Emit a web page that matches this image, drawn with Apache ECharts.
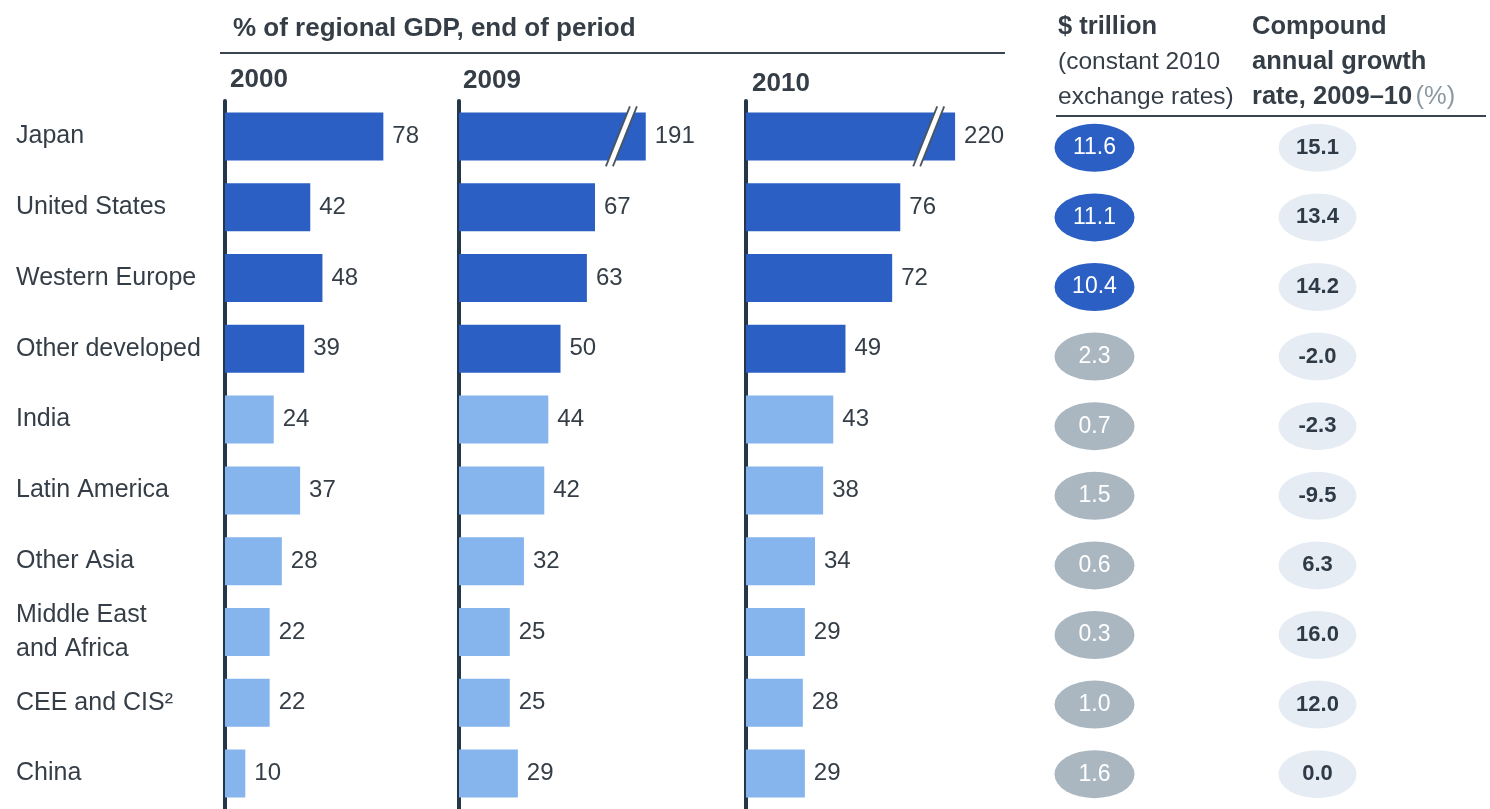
<!DOCTYPE html>
<html>
<head>
<meta charset="utf-8">
<script src="https://cdn.jsdelivr.net/npm/echarts@6/dist/echarts.min.js"></script>
<style>
  html, body { margin: 0; padding: 0; background: #ffffff; }
  #chart { width: 1490px; height: 809px; }
</style>
</head>
<body>
<div id="chart"></div>
<script>
// Regions, top to bottom
const regions = [
  'Japan', 'United States', 'Western Europe', 'Other developed', 'India',
  'Latin America', 'Other Asia', 'Middle East\nand Africa', 'CEE and CIS²', 'China'
];
// Developed regions get the dark bar colour
const developed = [true, true, true, true, false, false, false, false, false, false];

// % of regional GDP, end of period
const years = ['2000', '2009', '2010'];
const share2000 = [78, 42, 48, 39, 24, 37, 28, 22, 22, 10];
const share2009 = [191, 67, 63, 50, 44, 42, 32, 25, 25, 29];
const share2010 = [220, 76, 72, 49, 43, 38, 34, 29, 28, 29];

// $ trillion (constant 2010 exchange rates)
const stockTrillion = [11.6, 11.1, 10.4, 2.3, 0.7, 1.5, 0.6, 0.3, 1.0, 1.6];
// Largest stocks shown in dark ovals
const largeStock = [true, true, true, false, false, false, false, false, false, false];
// Compound annual growth rate, 2009–10 (%)
const growth0910 = [15.1, 13.4, 14.2, -2.0, -2.3, -9.5, 6.3, 16.0, 12.0, 0.0];

const FONT = '"Liberation Sans", Arial, Helvetica, sans-serif';
const INK = '#353e47';
const DARK_BLUE = '#2b5fc4';
const LIGHT_BLUE = '#86b5ee';
const AXIS_INK = '#24364a';
const GREY_OVAL = '#aab7c1';
const PALE_OVAL = '#e6ecf4';

const PX = 2.03;                 // pixels per percentage point
const ROW_TOP = 101, ROW_H = 711;

// Panel layout; long Japan bars in 2009/2010 use a broken value axis
const panels = [
  { values: share2000, left: 225, max: 100, brk: null },
  { values: share2009, left: 459, max: 200, brk: { start: 79, end: 180, gap: 2 } },
  { values: share2010, left: 746, max: 230, brk: { start: 89, end: 208, gap: 2 } }
];

const grid = [], xAxis = [], yAxis = [], series = [];

panels.forEach((p, i) => {
  const span = p.brk ? p.max - (p.brk.end - p.brk.start) + p.brk.gap : p.max;
  grid.push({ left: p.left, top: ROW_TOP, height: ROW_H, width: PX * span });
  const xa = {
    type: 'value', gridIndex: i, min: 0, max: p.max,
    axisLine: { show: false }, axisTick: { show: false },
    axisLabel: { show: false }, splitLine: { show: false }
  };
  if (p.brk) {
    xa.breaks = [{ start: p.brk.start, end: p.brk.end, gap: p.brk.gap }];
    xa.breakArea = { show: false };
  }
  xAxis.push(xa);
  yAxis.push({
    type: 'category', gridIndex: i, data: regions, inverse: true,
    axisLine: { show: true, lineStyle: { color: AXIS_INK, width: 4 } },
    axisTick: { show: false },
    splitLine: { show: false },
    axisLabel: i === 0 ? {
      show: true, align: 'left', margin: 209, fontSize: 25, lineHeight: 34,
      color: INK, fontFamily: FONT
    } : { show: false }
  });
  series.push({
    type: 'bar', xAxisIndex: i, yAxisIndex: i, barWidth: 48, silent: true,
    data: p.values.map((v, k) => ({
      value: v, itemStyle: { color: developed[k] ? DARK_BLUE : LIGHT_BLUE }
    })),
    label: {
      show: true, position: 'right', distance: 9, fontSize: 24,
      color: INK, fontFamily: FONT
    }
  });
  if (p.brk) {
    // double-slash break marker on bars that run past the break
    const marks = [];
    p.values.forEach((v, k) => { if (v > p.brk.end) marks.push([p.brk.start, p.brk.end, k]); });
    series.push({
      type: 'custom', xAxisIndex: i, yAxisIndex: i, z: 5, silent: true,
      encode: { x: [0, 1], y: 2 },
      data: marks,
      renderItem: (params, api) => {
        const a = api.coord([api.value(0), api.value(2)]);
        const b = api.coord([api.value(1), api.value(2)]);
        const cx = (a[0] + b[0]) / 2, cy = a[1];
        const half = 30, lean = 12, sep = 3.5;
        const top = cy - half, bot = cy + half;
        return {
          type: 'group',
          children: [
            { type: 'polygon',
              shape: { points: [[cx - sep + lean, top], [cx + sep + lean, top],
                                [cx + sep - lean, bot], [cx - sep - lean, bot]] },
              style: { fill: '#ffffff' } },
            { type: 'line',
              shape: { x1: cx - sep + lean, y1: top, x2: cx - sep - lean, y2: bot },
              style: { stroke: '#4a5560', lineWidth: 1.8 } },
            { type: 'line',
              shape: { x1: cx + sep + lean, y1: top, x2: cx + sep - lean, y2: bot },
              style: { stroke: '#4a5560', lineWidth: 1.8 } }
          ]
        };
      }
    });
  }
});

// Oval value columns on the right
const ovalGrid = grid.length;
grid.push({ left: 983, top: 113, width: 446, height: 700 });
xAxis.push({ type: 'category', gridIndex: ovalGrid, data: ['stock', 'growth'], show: false });
yAxis.push({ type: 'category', gridIndex: ovalGrid, data: regions, inverse: true, show: false });

const ELLIPSE = 'path://M50,0A50,50,0,1,1,50,100A50,50,0,1,1,50,0Z';

series.push({
  type: 'scatter', xAxisIndex: ovalGrid, yAxisIndex: ovalGrid, silent: true,
  symbol: ELLIPSE, symbolSize: [80, 48],
  data: stockTrillion.map((v, k) => ({
    value: [0, k, v],
    itemStyle: { color: largeStock[k] ? DARK_BLUE : GREY_OVAL, opacity: 1 }
  })),
  label: {
    show: true, position: 'inside', fontSize: 23, color: '#ffffff', fontFamily: FONT,
    formatter: (p) => p.value[2].toFixed(1)
  }
});
series.push({
  type: 'scatter', xAxisIndex: ovalGrid, yAxisIndex: ovalGrid, silent: true,
  symbol: ELLIPSE, symbolSize: [78, 48],
  data: growth0910.map((v, k) => ({ value: [1, k, v] })),
  itemStyle: { color: PALE_OVAL, opacity: 1 },
  label: {
    show: true, position: 'inside', fontSize: 22, fontWeight: 'bold', color: '#2e3a46',
    fontFamily: FONT, formatter: (p) => p.value[2].toFixed(1)
  }
});

const boldBig = 'bold 26px ' + FONT;
const boldHead = 'bold 25.5px ' + FONT;
const normal = '24.5px ' + FONT;
const normalHead = '25.5px ' + FONT;
const txt = (x, y, text, font, fill) => ({
  type: 'text', x, y, silent: true,
  style: { text, font, fill: fill || INK, verticalAlign: 'middle', align: 'left' }
});

const graphic = [
  txt(233, 29, '% of regional GDP, end of period', boldBig),
  { type: 'line', silent: true, shape: { x1: 220, y1: 53, x2: 1005, y2: 53 },
    style: { stroke: '#3a4450', lineWidth: 2 } },
  txt(230, 80, years[0], boldBig),
  txt(463, 81, years[1], boldBig),
  txt(752, 84, years[2], boldBig),
  txt(1058, 27, '$ trillion', boldHead),
  txt(1058, 62, '(constant 2010', normal),
  txt(1058, 97, 'exchange rates)', normal),
  txt(1252, 27, 'Compound', boldHead),
  txt(1252, 62, 'annual growth', boldHead),
  { type: 'text', x: 1252, y: 97, silent: true,
    style: {
      text: '{b|rate, 2009–10} {g|(%)}', verticalAlign: 'middle', align: 'left',
      rich: {
        b: { font: boldHead, fill: INK },
        g: { font: normalHead, fill: '#8d98a2' }
      }
    } },
  { type: 'line', silent: true, shape: { x1: 1056, y1: 116, x2: 1486, y2: 116 },
    style: { stroke: '#3a4450', lineWidth: 2 } }
];

const chart = echarts.init(document.getElementById('chart'), null, { renderer: 'canvas' });
chart.setOption({
  backgroundColor: '#ffffff',
  animation: false,
  textStyle: { fontFamily: FONT },
  grid, xAxis, yAxis, series, graphic
});
</script>
</body>
</html>
